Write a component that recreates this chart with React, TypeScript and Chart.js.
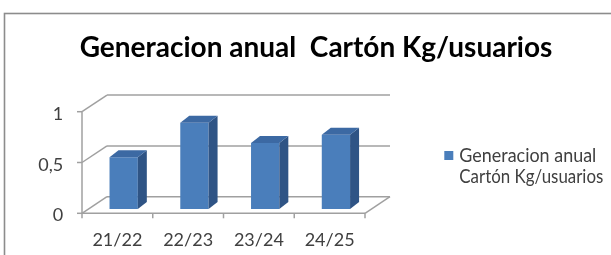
import React, { useEffect, useRef } from 'react';
import { Chart, registerables } from 'chart.js';
Chart.register(...registerables);

const categories = ['21/22', '22/23', '23/24', '24/25'];
const values = [0.51, 0.85, 0.65, 0.73];
const seriesLabel = 'Generacion anual  Cartón Kg/usuarios';
const legendLines = ['Generacion anual', 'Cartón Kg/usuarios'];
const titleText = 'Generacion anual  Cartón Kg/usuarios';
const yTickValues = [0, 0.5, 1];

const W = 611;
const H = 255;
const FONT = 'Lato';
const TEXT = '#404040';
const GRID = '#a0a0a0';
const FRONT = '#4a7ebb';
const SIDE = '#2f5485';
const TOP = '#3c69a3';

// bar plane (the chart area)
const PLANE_LEFT = 88.3;
const PLANE_RIGHT = 371.3;
const PLANE_TOP = 107.4;
const PLANE_BOTTOM = 209;
// offsets of front / back planes relative to bar plane
const FRONT_DX = -6.3;
const FRONT_DY = 4.3;
const BACK_DX = 18.7;
const BACK_DY = -12.3;
// bar depth
const BAR_DX = 9;
const BAR_DY = -7;

const threeD = {
  id: 'threeD',
  beforeDraw(chart: any) {
    const ctx = chart.ctx;
    ctx.save();
    ctx.fillStyle = '#ffffff';
    ctx.fillRect(0, 0, W, H);
    ctx.strokeStyle = '#8c8c8c';
    ctx.lineWidth = 1.6;
    ctx.strokeRect(4.5, 13.5, 800, 400);
    ctx.restore();
  },
  beforeDatasetsDraw(chart: any) {
    const { ctx, chartArea, scales } = chart;
    const x = scales.x;
    const y = scales.y;
    const fl = chartArea.left + FRONT_DX;
    const fr = chartArea.right + FRONT_DX;
    const bl = chartArea.left + BACK_DX;
    const br = chartArea.right + BACK_DX;
    ctx.save();
    ctx.strokeStyle = GRID;
    ctx.lineWidth = 1.5;
    const line = (x1: number, y1: number, x2: number, y2: number) => {
      ctx.beginPath();
      ctx.moveTo(x1, y1);
      ctx.lineTo(x2, y2);
      ctx.stroke();
    };
    yTickValues.forEach((v) => {
      const yp = y.getPixelForValue(v);
      line(bl, yp + BACK_DY, br, yp + BACK_DY);
      line(fl, yp + FRONT_DY, bl, yp + BACK_DY);
      line(fl - 5, yp + FRONT_DY, fl, yp + FRONT_DY);
    });
    const y0 = y.getPixelForValue(0);
    const y1 = y.getPixelForValue(1);
    line(fl, y1 + FRONT_DY, fl, y0 + FRONT_DY);
    line(fl, y0 + FRONT_DY, fr, y0 + FRONT_DY);
    line(fr, y0 + FRONT_DY, br, y0 + BACK_DY);
    const n = categories.length;
    for (let i = 0; i <= n; i++) {
      const xb = x.getPixelForDecimal(i / n) + FRONT_DX;
      line(xb, y0 + FRONT_DY, xb, y0 + FRONT_DY + 5);
    }
    ctx.restore();
  },
  afterDatasetsDraw(chart: any) {
    const ctx = chart.ctx;
    const meta = chart.getDatasetMeta(0);
    ctx.save();
    meta.data.forEach((bar: any) => {
      const p = bar.getProps(['x', 'y', 'base', 'width'], true);
      const l = p.x - p.width / 2;
      const r = p.x + p.width / 2;
      ctx.fillStyle = SIDE;
      ctx.beginPath();
      ctx.moveTo(r, p.y);
      ctx.lineTo(r + BAR_DX, p.y + BAR_DY);
      ctx.lineTo(r + BAR_DX, p.base + BAR_DY);
      ctx.lineTo(r, p.base);
      ctx.closePath();
      ctx.fill();
      ctx.fillStyle = TOP;
      ctx.beginPath();
      ctx.moveTo(l, p.y);
      ctx.lineTo(l + BAR_DX, p.y + BAR_DY);
      ctx.lineTo(r + BAR_DX, p.y + BAR_DY);
      ctx.lineTo(r, p.y);
      ctx.closePath();
      ctx.fill();
    });
    ctx.restore();
  },
  afterDraw(chart: any) {
    const ctx = chart.ctx;
    ctx.save();
    ctx.fillStyle = '#000000';
    ctx.font = `bold 28px ${FONT}`;
    ctx.textAlign = 'center';
    ctx.textBaseline = 'alphabetic';
    ctx.fillText(titleText, 316, 57);
    ctx.fillStyle = FRONT;
    ctx.fillRect(444.3, 151, 9, 9);
    ctx.fillStyle = TEXT;
    ctx.font = `18.5px ${FONT}`;
    ctx.textAlign = 'left';
    ctx.fillText(legendLines[0], 459.3, 161.7, 137);
    ctx.fillText(legendLines[1], 459.3, 183.3, 144);
    ctx.restore();
  },
};

export default function App() {
  const ref = useRef<HTMLCanvasElement | null>(null);
  useEffect(() => {
    if (!ref.current) return;
    const chart = new Chart(ref.current, {
      type: 'bar',
      data: {
        labels: categories,
        datasets: [
          {
            label: seriesLabel,
            data: values,
            backgroundColor: FRONT,
            borderWidth: 0,
            categoryPercentage: 1,
            barPercentage: 0.4,
          },
        ],
      },
      options: {
        animation: false,
        responsive: false,
        maintainAspectRatio: false,
        layout: { padding: { left: 0, right: W - PLANE_RIGHT, top: PLANE_TOP, bottom: 0 } },
        plugins: {
          legend: { display: false },
          title: { display: false },
          tooltip: { enabled: false },
        },
        scales: {
          x: {
            grid: { display: false },
            border: { display: false },
            ticks: {
              font: { family: FONT, size: 18 },
              color: TEXT,
              labelOffset: FRONT_DX,
              padding: 12,
              maxRotation: 0,
            },
            afterFit(s: any) {
              s.height = H - PLANE_BOTTOM;
            },
          },
          y: {
            min: 0,
            max: 1,
            grid: { display: false },
            border: { display: false },
            ticks: {
              stepSize: 0.5,
              font: { family: FONT, size: 18 },
              color: TEXT,
              labelOffset: 6.5,
              padding: 17,
              callback: (v: any) => String(v).replace('.', ','),
            },
            afterFit(s: any) {
              s.width = PLANE_LEFT;
            },
          },
        },
      },
      plugins: [threeD],
    });
    return () => chart.destroy();
  }, []);
  return (
    <div style={{ position: 'absolute', left: 0, top: 0, width: W, height: H }}>
      <canvas ref={ref} width={W} height={H} style={{ width: W, height: H }} />
    </div>
  );
}
